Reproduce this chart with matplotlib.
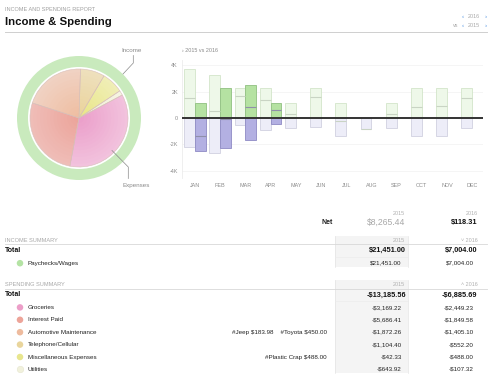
import numpy as np
import matplotlib
matplotlib.use("Agg")
import matplotlib.pyplot as plt
from matplotlib.colors import to_rgb
from matplotlib.ticker import FuncFormatter

plt.rcParams["font.family"] = ["Liberation Sans", "DejaVu Sans"]
plt.rcParams["text.parse_math"] = False

# --- data -------------------------------------------------------------------
months = ["JAN", "FEB", "MAR", "APR", "MAY", "JUN",
          "JUL", "AUG", "SEP", "OCT", "NOV", "DEC"]
income_2015 = [3720, 3240, 2250, 2250, 1110, 2250, 1110, 0, 1110, 2250, 2250, 2250]
spend_2015 = [-2180, -2680, -560, -890, -780, -660, -1340, -810, -780, -1390, -1370, -760]
income_2016 = [1110, 2250, 2480, 1110]
spend_2016 = [-2480, -2300, -1650, -480]

categories = ["Groceries", "Interest Paid", "Automotive Maintenance",
              "Telephone/Cellular", "Miscellaneous Expenses", "Utilities"]
cat_2015 = ["-$3,169.22", "-$5,686.41", "-$1,872.26", "-$1,104.40", "-$42.33", "-$643.92"]
cat_2016 = ["-$2,449.23", "-$1,849.58", "-$1,405.10", "-$552.20", "-$488.00", "-$107.32"]
cat_values_2016 = [2449.23, 1849.58, 1405.10, 552.20, 488.00, 107.32]
cat_tags = ["", "", "#Jeep $183.98    #Toyota $450.00", "", "#Plastic Crap $488.00", ""]
cat_colors = ["#ec9ec8", "#eda499", "#eebb9e", "#e9d59c", "#e8e68e", "#f1f1dc"]
cat_outer = ["#f2c2dd", "#efbdb7", "#f0d2c3", "#eee0bc", "#f0eeb6", "#f5f4e2"]
cat_inner = ["#eba0cb", "#eca59c", "#efbea2", "#ead39c", "#e9e688", "#f2f0d8"]

income_cats = ["Paychecks/Wages"]
income_cat_2015 = ["$21,451.00"]
income_cat_2016 = ["$7,004.00"]
income_total_2016 = [7004.00]

net_2015, net_2016 = "$8,265.44", "$118.31"
inc_total_2015, inc_total_2016 = "$21,451.00", "$7,004.00"
sp_total_2015, sp_total_2016 = "-$13,185.56", "-$6,885.69"

W, H = 500, 379
fig = plt.figure(figsize=(W / 100, H / 100), dpi=100)


def box(x0, y0, x1, y1):
    """pixel box (top-left origin) -> figure fraction rect"""
    return [x0 / W, 1 - y1 / H, (x1 - x0) / W, (y1 - y0) / H]


# --- donut / pie ------------------------------------------------------------
cx, cy, R = 79, 118, 66
pax = fig.add_axes(box(cx - R, cy - R, cx + R, cy + R))
pax.pie(income_total_2016, radius=62, colors=["#c9eabd"],
        wedgeprops=dict(width=11, linewidth=0))
nlev = 14
for k in range(nlev):
    t = k / (nlev - 1)
    cols = [tuple((1 - t) * np.array(to_rgb(a)) + t * np.array(to_rgb(b)))
            for a, b in zip(cat_outer, cat_inner)]
    pax.pie(cat_values_2016, radius=49 * (1 - 0.9 * t), colors=cols,
            startangle=28, counterclock=False, wedgeprops=dict(linewidth=0))
pax.pie(cat_values_2016, radius=49, colors=["none"] * 6, startangle=28,
        counterclock=False, wedgeprops=dict(linewidth=0.4, edgecolor="#d8bfba"))
pax.set_xlim(-R, R)
pax.set_ylim(-R, R)
pax.set_aspect("equal")
pax.axis("off")

# --- monthly bars -----------------------------------------------------------
ax = fig.add_axes(box(182, 60, 483, 178))
x = np.arange(len(months))
bw = 0.425
inc15 = np.array(income_2015)
sp15 = np.array(spend_2015)
inc16 = np.array(income_2016)
sp16 = np.array(spend_2016)
x16 = x[:len(inc16)]

for y in (-4000, -2000, 2000, 4000):
    ax.axhline(y, color="#f4f4f4", lw=0.6, zorder=0)

ax.bar(x, inc15, width=-bw, align="edge", color="#eef8e9", edgecolor="#d3e5ca", lw=0.6, zorder=2)
ax.bar(x, sp15, width=-bw, align="edge", color="#ededf8", edgecolor="#d1d1e0", lw=0.6, zorder=2)
ax.hlines(inc15 + sp15, x - bw, x, color="#c9d4c4", lw=0.8, zorder=3)

ax.bar(x16, inc16, width=bw, align="edge", color="#b5e2a2", edgecolor="#90c080", lw=0.6, zorder=2)
ax.bar(x16, sp16, width=bw, align="edge", color="#b3b0e2", edgecolor="#8e8ac4", lw=0.6, zorder=2)
ax.hlines(inc16 + sp16, x16, x16 + bw, color="#8f8faa", lw=0.8, zorder=3)

ax.axhline(0, color="#333333", lw=1.4, zorder=4)
ax.set_xlim(-0.516, 11.43)
ax.set_ylim(-4545, 4394)
ax.set_xticks(x)
ax.set_xticklabels(months)
ax.set_yticks([-4000, -2000, 0, 2000, 4000])
ax.yaxis.set_major_formatter(FuncFormatter(lambda v, p: "0" if v == 0 else f"{v / 1000:.0f}K"))
ax.tick_params(length=0, labelsize=3.9, labelcolor="#8a8a8a")
ax.tick_params(axis="x", pad=3.6)
ax.tick_params(axis="y", pad=2.9)
for s in ("top", "right", "bottom"):
    ax.spines[s].set_visible(False)
ax.spines["left"].set_color("#ececec")
ax.spines["left"].set_linewidth(0.6)
ax.patch.set_alpha(0)

# --- overlay in pixel coordinates ----------------------------------------------
ov = fig.add_axes([0, 0, 1, 1])
ov.set_xlim(0, W)
ov.set_ylim(H, 0)
ov.axis("off")
ov.patch.set_alpha(0)

blue = "#4a8fe0"
ov.text(5, 9.5, "INCOME AND SPENDING REPORT", fontsize=4.0, color="#a0a0a0", va="center")
ov.text(5, 22, "Income & Spending", fontsize=8.2, fontweight="bold", color="#111111", va="center")
ov.plot([5, 487], [31.7, 31.7], color="#cfcfcf", lw=0.7)
ov.text(463, 16.5, "‹", fontsize=4.6, color=blue, va="center", ha="center")
ov.text(468, 16.5, "2016", fontsize=3.9, color="#a8a8a8", va="center")
ov.text(486, 16.5, "›", fontsize=4.6, color=blue, va="center", ha="center")
ov.text(453, 25.5, "vs", fontsize=3.9, color="#a8a8a8", va="center")
ov.text(463, 25.5, "‹", fontsize=4.6, color=blue, va="center", ha="center")
ov.text(468, 25.5, "2015", fontsize=3.9, color="#a8a8a8", va="center")
ov.text(486, 25.5, "›", fontsize=4.6, color=blue, va="center", ha="center")

# chart caption and donut labels
ov.text(182, 50, "› 2015 vs 2016", fontsize=3.9, color="#8a8a8a", va="center")
ov.text(132, 50.5, "Income", fontsize=4.5, color="#8a8a8a", va="center", ha="center")
ov.plot([133.3, 133.3, 123], [55.5, 63, 74], color="#8a8a8a", lw=0.5)
ov.text(136, 185.5, "Expenses", fontsize=4.5, color="#8a8a8a", va="center", ha="center")
ov.plot([112, 128.3, 128.3], [150.5, 167, 178.5], color="#8a8a8a", lw=0.5)

# net row
c15, c16 = 405, 477.5
ov.text(c15, 213.3, "2015", fontsize=3.9, color="#b0b0b0", ha="right", va="center")
ov.text(c16, 213.3, "2016", fontsize=3.9, color="#b0b0b0", ha="right", va="center")
ov.text(332.7, 222.7, "Net", fontsize=5.0, fontweight="bold", color="#222222", ha="right", va="center")
ov.text(c15, 222.7, net_2015, fontsize=6.2, color="#a8a8a8", ha="right", va="center")
ov.text(c16, 222.7, net_2016, fontsize=5.3, fontweight="bold", color="#111111", ha="right", va="center")


def section(title, y_head, total15, total16, names, v15, v16, colors, tags, arrow):
    row = 12.4
    n = len(names)
    y_top = y_head - 4.5
    y_bot = y_head + 10.5 + row * n + 4
    ov.fill_between([335, 407.5], y_top, y_bot, color="#f4f4f4", lw=0, zorder=0)
    ov.plot([335, 335], [y_top, y_bot], color="#e4e4e4", lw=0.5)
    ov.plot([407.5, 407.5], [y_top, y_bot], color="#e4e4e4", lw=0.5)
    ov.text(5, y_head, title, fontsize=4.1, color="#a8a8a8", va="center")
    ov.text(c15, y_head, "2015", fontsize=3.9, color="#b0b0b0", ha="right", va="center")
    ov.text(c16, y_head, arrow + " 2016", fontsize=3.9, color="#b0b0b0", ha="right", va="center")
    ov.plot([5, 487], [y_head + 4, y_head + 4], color="#d8d8d8", lw=0.6)
    yt = y_head + 10.5
    ov.plot([335, 407.5], [yt + 6, yt + 6], color="#ebebeb", lw=0.4)
    ov.text(5, yt, "Total", fontsize=5.0, fontweight="bold", color="#111111", va="center")
    ov.text(c15 + 1, yt, total15, fontsize=5.3, fontweight="bold", color="#111111", ha="right", va="center")
    ov.text(c16, yt, total16, fontsize=5.3, fontweight="bold", color="#111111", ha="right", va="center")
    for i, name in enumerate(names):
        y = yt + row * (i + 1)
        ov.scatter([20], [y], s=22, color=colors[i], edgecolor="#e6e6d0" if i == 5 and n > 1 else "none",
                   lw=0.4, zorder=3)
        ov.text(27.7, y, name, fontsize=4.5, color="#222222", va="center")
        if tags[i]:
            ov.text(326.7, y, tags[i], fontsize=4.5, color="#222222", ha="right", va="center")
        ov.text(401.7, y, v15[i], fontsize=4.5, color="#222222", ha="right", va="center")
        ov.text(474, y, v16[i], fontsize=4.5, color="#222222", ha="right", va="center")


section("INCOME SUMMARY", 240.3, inc_total_2015, inc_total_2016,
        income_cats, income_cat_2015, income_cat_2016, ["#b4e3a4"], [""], "˅")
section("SPENDING SUMMARY", 284.5, sp_total_2015, sp_total_2016,
        categories, cat_2015, cat_2016, cat_colors, cat_tags, "˄")

fig.savefig("out.png", dpi=100)
